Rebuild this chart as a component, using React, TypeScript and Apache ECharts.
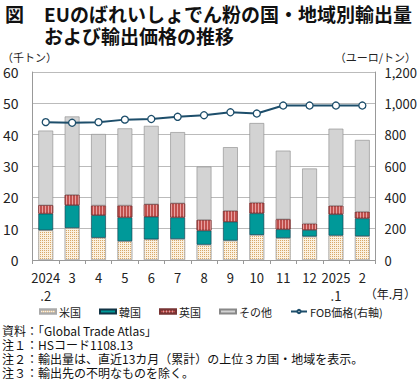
import React, { useEffect, useRef } from "react";
import * as echarts from "echarts";

const categories = ["2024\n.2", "3", "4", "5", "6", "7", "8", "9", "10", "11", "12", "2025\n.1", "2"];
const usData = [9.5, 10.2, 7.1, 6.0, 6.6, 6.7, 4.9, 6.2, 8.0, 7.0, 7.5, 7.8, 7.6];
const krTotal = [14.8, 17.5, 14.3, 13.6, 13.8, 13.6, 9.4, 12.2, 14.9, 9.8, 9.6, 14.6, 13.3];
const ukTotal = [17.5, 20.8, 17.4, 17.4, 17.8, 18.1, 12.8, 15.7, 18.3, 13.0, 11.6, 17.3, 15.4];
const allTotal = [41.3, 45.8, 40.2, 42.0, 42.8, 40.8, 29.8, 36.0, 43.7, 34.9, 29.2, 41.9, 38.3];
const fobPrice = [880, 876, 880, 896, 900, 914, 924, 943, 935, 986, 986, 986, 986];
const leftTicks = [0, 10, 20, 30, 40, 50, 60];
const notes = [
  "資料：「Global Trade Atlas」",
  "注１：HSコード1108.13",
  "注２：輸出量は、直近13カ月（累計）の上位３カ国・地域を表示。",
  "注３：輸出先の不明なものを除く。",
];
const titleLines = ["EUのばれいしょでん粉の国・地域別輸出量", "および輸出価格の推移"];

const krData = krTotal.map((v, i) => +(v - usData[i]).toFixed(1));
const ukData = ukTotal.map((v, i) => +(v - krTotal[i]).toFixed(1));
const otherData = allTotal.map((v, i) => +(v - ukTotal[i]).toFixed(1));

const FONT = '"Noto Sans CJK JP", "Noto Sans", sans-serif';

export default function App() {
  const ref = useRef<HTMLDivElement>(null);
  useEffect(() => {
    if (!ref.current) return;
    const chart = echarts.init(ref.current, null, { renderer: "svg" });
    const border = { borderColor: "#555", borderWidth: 0.6 };
    chart.setOption({
      animation: false,
      textStyle: { fontFamily: FONT },
      grid: { left: 30, right: 41, top: 72, bottom: 121 },
      legend: {
        top: 306,
        left: 39,
        width: 380,
        padding: 0,
        itemWidth: 16,
        itemHeight: 4,
        itemGap: 18,
        textStyle: { fontSize: 11, color: "#222", fontFamily: FONT, padding: [0, 0, 0, -2] },
        data: [
          { name: "米国", icon: "rect" },
          { name: "韓国", icon: "rect" },
          { name: "英国", icon: "rect" },
          { name: "その他", icon: "rect" },
          "FOB価格(右軸)",
        ],
      },
      xAxis: {
        type: "category",
        data: categories,
        axisLine: { lineStyle: { color: "#999" } },
        axisTick: { show: true, length: 4, lineStyle: { color: "#999" } },
        axisLabel: { fontSize: 13, color: "#222", lineHeight: 18, margin: 8, interval: 0 },
      },
      yAxis: [
        {
          type: "value",
          min: leftTicks[0],
          max: leftTicks[leftTicks.length - 1],
          interval: 10,
          axisLine: { show: true, lineStyle: { color: "#999" } },
          axisTick: { show: false },
          axisLabel: { fontSize: 14, color: "#222", margin: 14 },
          splitLine: { lineStyle: { color: "#bbb" } },
        },
        {
          type: "value",
          min: 0,
          max: 1200,
          interval: 200,
          axisLine: { show: true, lineStyle: { color: "#999" } },
          axisTick: { show: false },
          axisLabel: {
            fontSize: 13,
            color: "#222",
            margin: 9,
            formatter: (v: number) => v.toLocaleString("en-US"),
          },
          splitLine: { show: false },
        },
      ],
      series: [
        {
          name: "米国",
          type: "bar",
          stack: "a",
          barWidth: "56%",
          data: usData,
          itemStyle: {
            color: "#fbf1e0",
            ...border,
            borderColor: "#aaa",
            decal: {
              symbol: "rect",
              symbolSize: 1,
              dashArrayX: [1, 1],
              dashArrayY: [1, 1],
              color: "#d8a868",
            },
          },
        },
        {
          name: "韓国",
          type: "bar",
          stack: "a",
          data: krData,
          itemStyle: { color: "#009999", ...border, borderColor: "#134" },
        },
        {
          name: "英国",
          type: "bar",
          stack: "a",
          data: ukData,
          itemStyle: {
            color: "#c0504d",
            ...border,
            borderColor: "#733",
            decal: {
              symbol: "rect",
              symbolSize: 1,
              dashArrayX: [1, 2],
              dashArrayY: [4, 0],
              color: "#e8a0a0",
            },
          },
        },
        {
          name: "その他",
          type: "bar",
          stack: "a",
          data: otherData,
          itemStyle: { color: "#d3d3d3", ...border, borderColor: "#888" },
        },
        {
          name: "FOB価格(右軸)",
          type: "line",
          yAxisIndex: 1,
          data: fobPrice,
          symbol: "circle",
          symbolSize: 7,
          lineStyle: { color: "#1d4e6b", width: 2 },
          itemStyle: { color: "#fff", borderColor: "#1d4e6b", borderWidth: 1.3 },
        },
      ],
      graphic: [
        { type: "text", left: 5, top: 2, style: { text: "図", fontSize: 19, lineHeight: 22, fontWeight: "bold", fill: "#111", fontFamily: FONT } },
        { type: "text", left: 44, top: 2, style: { text: titleLines.join("\n"), fontSize: 19, lineHeight: 22, fontWeight: "bold", fill: "#111", fontFamily: FONT } },
        { type: "text", left: 2, top: 51, style: { text: "（千トン）", fontSize: 11, lineHeight: 12, fill: "#222", fontFamily: FONT } },
        { type: "text", right: 4, top: 51, style: { text: "（ユーロ/トン）", fontSize: 11, lineHeight: 12, fill: "#222", fontFamily: FONT } },
        { type: "text", right: 4, top: 286, style: { text: "（年.月）", fontSize: 12, lineHeight: 14, fill: "#222", fontFamily: FONT } },
        { type: "text", left: 2, top: 323, style: { text: notes.join("\n"), fontSize: 12, lineHeight: 14, fill: "#111", fontFamily: FONT } },
      ],
    });
    return () => chart.dispose();
  }, []);
  return <div ref={ref} style={{ width: 420, height: 381, position: "absolute", left: 0, top: 0 }} />;
}
